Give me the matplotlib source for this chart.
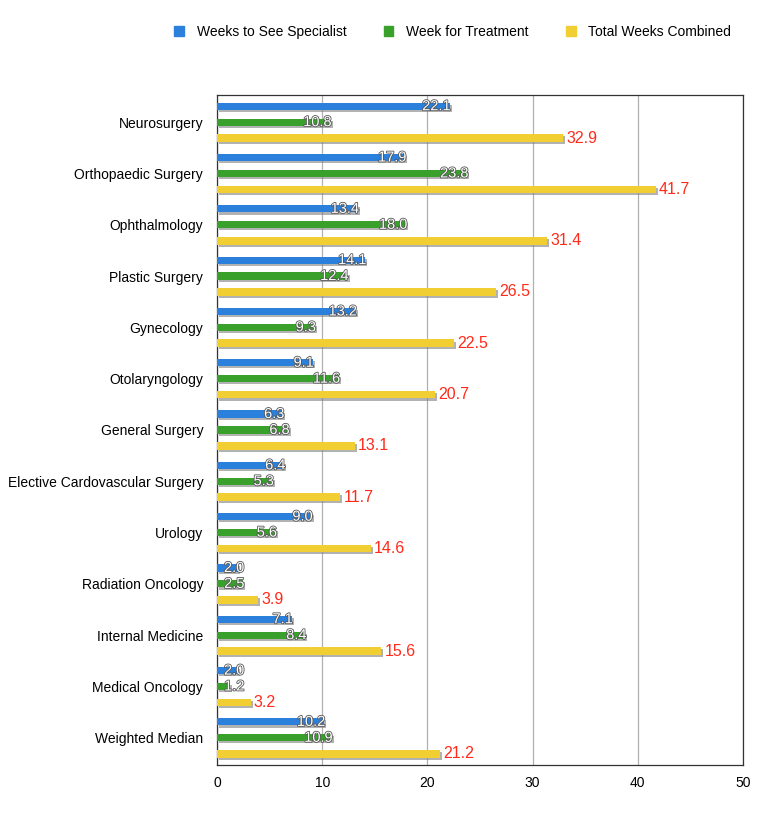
import matplotlib.pyplot as plt
import matplotlib.patheffects as pe
from matplotlib.patches import Patch
import numpy as np

plt.rcParams["font.family"] = ["Liberation Sans", "DejaVu Sans"]

specialties = [
    "Neurosurgery", "Orthopaedic Surgery", "Ophthalmology", "Plastic Surgery",
    "Gynecology", "Otolaryngology", "General Surgery",
    "Elective Cardovascular Surgery", "Urology", "Radiation Oncology",
    "Internal Medicine", "Medical Oncology", "Weighted Median",
]
weeks_specialist = [22.1, 17.9, 13.4, 14.1, 13.2, 9.1, 6.3, 6.4, 9.0, 2.0, 7.1, 2.0, 10.2]
weeks_treatment = [10.8, 23.8, 18.0, 12.4, 9.3, 11.6, 6.8, 5.3, 5.6, 2.5, 8.4, 1.2, 10.9]
weeks_total = [32.9, 41.7, 31.4, 26.5, 22.5, 20.7, 13.1, 11.7, 14.6, 3.9, 15.6, 3.2, 21.2]

blue = "#2b80dc"
green = "#39a02c"
yellow = "#f1cf33"

fig = plt.figure(figsize=(7.57, 8.16), dpi=100)
ax = fig.add_axes([0.2867, 0.0625, 0.6948, 0.8211])

y = np.arange(len(specialties))
off = 0.31
h = 0.14

shadow = [pe.SimplePatchShadow(offset=(1.5, -1.5), shadow_rgbFace="gray", alpha=0.6), pe.Normal()]
b1 = ax.barh(y - off, weeks_specialist, height=h, color=blue, zorder=3)
b2 = ax.barh(y, weeks_treatment, height=h, color=green, zorder=3)
b3 = ax.barh(y + off, weeks_total, height=h + 0.01, color=yellow, zorder=3)
for bars in (b1, b2, b3):
    for p in bars:
        p.set_path_effects(shadow)

# white value labels with a dark outline, inside the bar end
txt_shadow = [pe.Stroke(linewidth=1.2, foreground="#555555"), pe.Normal()]
for vals, pos in ((weeks_specialist, y - off), (weeks_treatment, y)):
    for v, yy in zip(vals, pos):
        ax.text(max(v, 2.5) + 0.1, yy, f"{v:.1f}", ha="right", va="center",
                fontsize=10.5, color="white", path_effects=txt_shadow, zorder=5)
for v, yy in zip(weeks_total, y + off):
    ax.text(v + 0.3, yy, f"{v:.1f}", ha="left", va="center",
            fontsize=11.5, color="#ff2a1a", zorder=5)

ax.set_xlim(0, 50)
ax.set_ylim(12.53, -0.53)
ax.set_xticks([0, 10, 20, 30, 40, 50])
ax.set_yticks(y)
ax.set_yticklabels(specialties, fontsize=10)
ax.tick_params(axis="x", labelsize=10, length=0, pad=8)
ax.tick_params(axis="y", length=0, pad=10)
ax.xaxis.grid(True, color="#b0b0b0", linewidth=0.9, zorder=0)
ax.set_axisbelow(True)
for s in ax.spines.values():
    s.set_color("#333333")
    s.set_linewidth(0.9)

handles = [
    Patch(color=blue, label="Weeks to See Specialist"),
    Patch(color=green, label="Week for Treatment"),
    Patch(color=yellow, label="Total Weeks Combined"),
]
fig.legend(handles=handles, loc="upper center", bbox_to_anchor=(0.598, 0.985),
           ncol=3, frameon=False, fontsize=10, handlelength=0.7, handleheight=0.7,
           columnspacing=2.7, handletextpad=0.9)

fig.savefig("out.png", dpi=100)
